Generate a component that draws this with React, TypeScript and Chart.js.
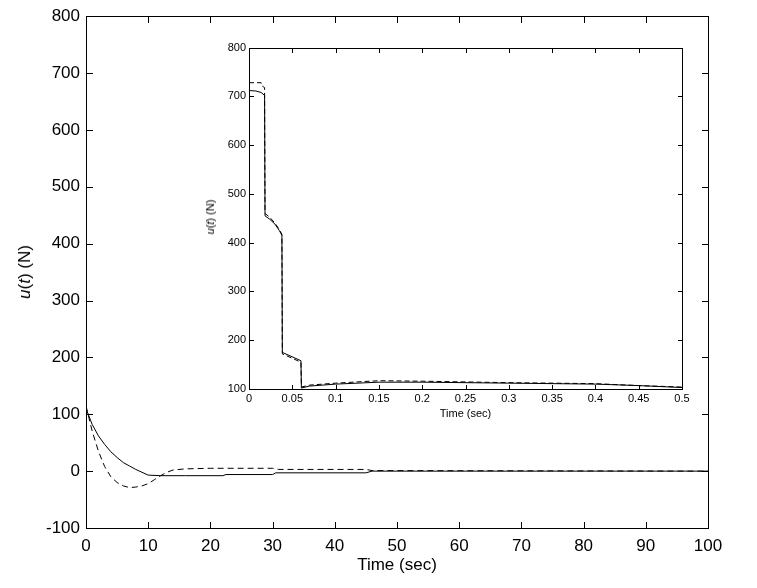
import { useEffect, useRef } from 'react';
import Chart from 'chart.js/auto';

// main plot: 0..100 s
const mainSolidT = [0, 1, 2, 3, 4, 5, 6, 7, 8, 9, 10, 12, 16, 22, 22.5, 30, 30.5, 45, 46, 60, 100];
const mainSolidU = [110, 82, 62, 47, 34, 24, 15, 9, 3, -2, -7, -8, -8, -8, -6, -6, -3, -3, 0, 0, 0];
const mainDashT = [0, 1, 2, 3, 4, 5, 6, 7, 8, 9, 10, 11, 12, 13, 14, 16, 20, 30, 31, 45, 46, 100];
const mainDashU = [115, 70, 35, 8, -10, -20, -26, -29, -28, -26, -22, -15, -8, -2, 2, 4, 5, 5, 3, 3, 1, 0];

// inset: first 0.5 s
const insetSolidT = [0, 0.008, 0.014, 0.018, 0.0185, 0.024, 0.03, 0.035, 0.038, 0.0385, 0.06, 0.0605, 0.07, 0.1, 0.15, 0.2, 0.3, 0.4, 0.45, 0.5];
const insetSolidU = [712, 711, 708, 702, 455, 448, 438, 425, 415, 175, 158, 102, 106, 110, 114, 114, 112, 110, 107, 103];
const insetDashT = [0, 0.014, 0.0145, 0.018, 0.0185, 0.024, 0.03, 0.035, 0.038, 0.0385, 0.06, 0.0605, 0.07, 0.1, 0.15, 0.2, 0.3, 0.4, 0.45, 0.5];
const insetDashU = [728, 728, 722, 718, 460, 452, 440, 427, 417, 172, 155, 104, 108, 112, 117, 116, 113, 111, 107, 104];

const mainXTicks = [0, 10, 20, 30, 40, 50, 60, 70, 80, 90, 100];
const mainYTicks = [-100, 0, 100, 200, 300, 400, 500, 600, 700, 800];
const insetXTicks = [0, 0.05, 0.1, 0.15, 0.2, 0.25, 0.3, 0.35, 0.4, 0.45, 0.5];
const insetYTicks = [100, 200, 300, 400, 500, 600, 700, 800];

const FONT = '"Liberation Sans", Arial, sans-serif';

const pts = (t: number[], u: number[]) => t.map((x, i) => ({ x, y: u[i] }));

const framePlugin = (tick: number, xt: number[], yt: number[]) => ({
  id: 'frame',
  afterDraw(chart: any) {
    const { ctx, chartArea: a } = chart;
    const L = Math.round(a.left), R = Math.round(a.right), T = Math.round(a.top), B = Math.round(a.bottom);
    const x0 = xt[0], x1 = xt[xt.length - 1];
    ctx.save();
    ctx.fillStyle = '#000';
    ctx.fillRect(L, T, R - L + 1, 1);
    ctx.fillRect(L, B, R - L + 1, 1);
    ctx.fillRect(L, T, 1, B - T + 1);
    ctx.fillRect(R, T, 1, B - T + 1);
    for (let i = 0; i < xt.length; i++) {
      const px = Math.round(L + ((xt[i] - x0) / (x1 - x0)) * (R - L));
      ctx.fillRect(px, B - tick + 1, 1, tick);
      ctx.fillRect(px, T, 1, tick);
    }
    for (let i = 0; i < yt.length; i++) {
      const py = Math.round(chart.scales.y.getPixelForValue(yt[i]));
      ctx.fillRect(L, py, tick, 1);
      ctx.fillRect(R - tick + 1, py, tick, 1);
    }
    ctx.restore();
  },
});

function makeChart(
  canvas: HTMLCanvasElement, solid: any[], dash: any[], xt: number[], yt: number[], opts: {
    xStep: number; yWidth: number; xHeight: number; pad: any; font: number; dashPat: number[]; tick: number;
    xPad: number; yPad: number; xTitle: string; xFix: (v: number) => string;
  }) {
  return new Chart(canvas, {
    type: 'line',
    data: {
      datasets: [
        { data: solid, borderColor: '#000', borderWidth: 1, pointRadius: 0, tension: 0 },
        { data: dash, borderColor: '#000', borderWidth: 1, pointRadius: 0, tension: 0, borderDash: opts.dashPat },
      ],
    },
    options: {
      animation: false,
      responsive: false,
      layout: { padding: opts.pad },
      plugins: { legend: { display: false }, tooltip: { enabled: false } },
      scales: {
        x: {
          type: 'linear', min: xt[0], max: xt[xt.length - 1],
          grid: { display: false, tickLength: 0 }, border: { display: false },
          ticks: { stepSize: opts.xStep, color: '#000', font: { family: FONT, size: opts.font }, padding: opts.xPad, maxRotation: 0, callback: (v: any) => opts.xFix(Number(v)) },
          title: { display: true, text: opts.xTitle, color: '#000', font: { family: FONT, size: opts.font }, padding: 0 },
          afterFit: (s: any) => { s.height = opts.xHeight; },
        },
        y: {
          type: 'linear', min: yt[0], max: yt[yt.length - 1],
          grid: { display: false, tickLength: 0 }, border: { display: false },
          ticks: { stepSize: 100, color: '#000', font: { family: FONT, size: opts.font }, padding: opts.yPad },
          afterFit: (s: any) => { s.width = opts.yWidth; },
        },
      },
    },
    plugins: [framePlugin(opts.tick, xt, yt)],
  });
}

const App = () => {
  const mainRef = useRef<HTMLCanvasElement>(null);
  const insetRef = useRef<HTMLCanvasElement>(null);

  useEffect(() => {
    if (!mainRef.current || !insetRef.current) return;
    const main = makeChart(mainRef.current, pts(mainSolidT, mainSolidU), pts(mainDashT, mainDashU), mainXTicks, mainYTicks, {
      xStep: 10, yWidth: 86, xHeight: 48, pad: { top: 15, right: 49, left: 0, bottom: 12 }, font: 17, dashPat: [6, 4], tick: 7,
      xPad: 8, yPad: 6, xTitle: 'Time (sec)', xFix: (v) => String(v),
    });
    const inset = makeChart(insetRef.current, pts(insetSolidT, insetSolidU), pts(insetDashT, insetDashU), insetXTicks, insetYTicks, {
      xStep: 0.05, yWidth: 44, xHeight: 32, pad: { top: 7, right: 13, left: 0, bottom: 4 }, font: 11, dashPat: [5, 3], tick: 5,
      xPad: 3, yPad: 3, xTitle: 'Time (sec)', xFix: (v) => String(Math.round(v * 100) / 100),
    });
    return () => { main.destroy(); inset.destroy(); };
  }, []);

  return (
    <div style={{ position: 'fixed', left: 0, top: 0, width: 757, height: 588, background: '#fff', fontFamily: FONT }}>
      <canvas ref={mainRef} width={757} height={588} style={{ position: 'absolute', left: 0, top: 0 }} />
      <div style={{ position: 'absolute', left: 25, top: 272, transform: 'translate(-50%,-50%) rotate(-90deg)', fontSize: 17, whiteSpace: 'nowrap' }}>
        <i>u</i>(<i>t</i>) (N)
      </div>
      <div style={{ position: 'absolute', left: 205, top: 38, width: 490, height: 387, background: '#fff' }}>
        <canvas ref={insetRef} width={490} height={387} style={{ position: 'absolute', left: 0, top: 0 }} />
        <div style={{ position: 'absolute', left: 5, top: 179, transform: 'translate(-50%,-50%) rotate(-90deg)', fontSize: 11, whiteSpace: 'nowrap' }}>
          <i>u</i>(<i>t</i>) (N)
        </div>
      </div>
    </div>
  );
};

export default App;
